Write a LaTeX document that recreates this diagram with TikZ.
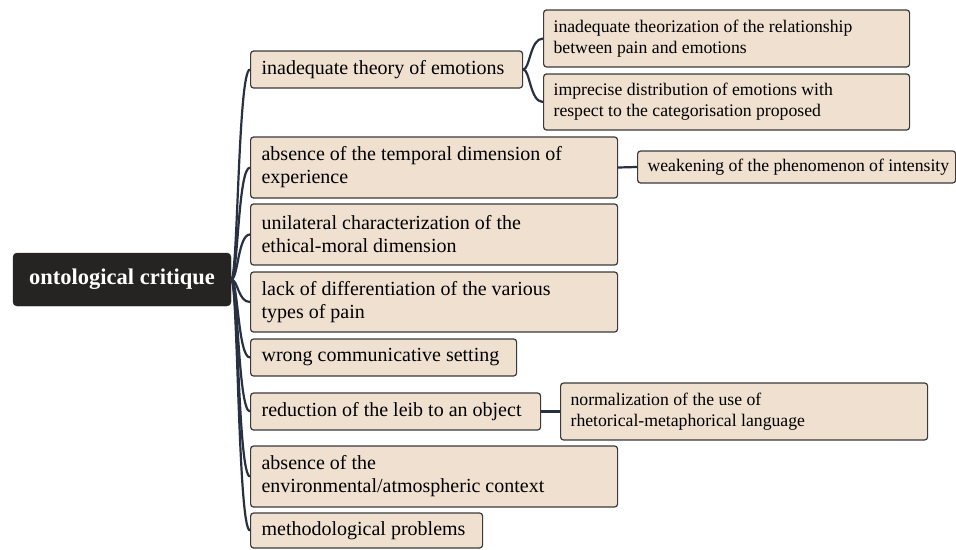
\documentclass[tikz,border=0pt]{standalone}
\usepackage{fontspec}
\setmainfont{Liberation Serif}
\definecolor{boxfill}{RGB}{240,224,207}
\definecolor{boxline}{RGB}{58,58,58}
\definecolor{rootfill}{RGB}{38,36,35}
\definecolor{linkcol}{RGB}{40,48,66}

\begin{document}
\begin{tikzpicture}[x=1pt, y=-1pt,
        topic/.style = {draw=boxline, fill=boxfill, line width=1.2pt, rounded corners=3pt,
                        anchor=west, align=flush left, inner xsep=11pt, inner ysep=0pt,
                        execute at begin node={\hyphenpenalty=10000\rightskip=0pt plus 1fil minus 40pt},
                        font={\fontsize{20}{23}\selectfont}},
        subtopic/.style = {topic, inner xsep=10pt, font={\fontsize{17.7}{21}\selectfont}},
        roottopic/.style = {draw=rootfill, fill=rootfill, text=white, rounded corners=4pt,
                        minimum width=218pt, minimum height=53pt,
                        font={\fontsize{22.5}{26}\selectfont\bfseries}},
        link/.style = {draw=linkcol, line width=2.2pt}]
        \useasboundingbox (0,0) rectangle (956,549);

        \node[roottopic] (root) at (122, 279.5) {ontological critique};

        \node[topic, text width=250pt, minimum height=37pt] (a) at (250, 69.5) {inadequate theory of emotions};
        \node[topic, text width=345pt, minimum height=61pt] (b) at (250, 167.5) {absence of the temporal dimension of\\experience};
        \node[topic, text width=345pt, minimum height=61pt] (c) at (250, 234.5) {unilateral characterization of the\\ethical-moral dimension};
        \node[topic, text width=345pt, minimum height=60pt] (d) at (250, 302) {lack of differentiation of the various\\types of pain};
        \node[topic, text width=244pt, minimum height=37pt] (e) at (250, 357.5) {wrong communicative setting};
        \node[topic, text width=268pt, minimum height=37pt] (f) at (250, 411.5) {reduction of the leib to an object};
        \node[topic, text width=345pt, minimum height=61pt] (g) at (250, 476.5) {absence of the\\environmental/atmospheric context};
        \node[topic, text width=210pt, minimum height=35pt] (h) at (250, 530.5) {methodological problems};

        \node[subtopic, text width=346pt, minimum height=57pt] (a1) at (543, 38.5) {inadequate theorization of the relationship\\between pain and emotions};
        \node[subtopic, text width=346pt, minimum height=56pt] (a2) at (543, 102) {imprecise distribution of emotions with\\respect to the categorisation proposed};
        \node[subtopic, text width=298pt, minimum height=32pt] (b1) at (637, 167) {weakening of the phenomenon of intensity};
        \node[subtopic, text width=347pt, minimum height=57pt] (f1) at (560, 411.5) {normalization of the use of\\rhetorical-metaphorical language};

        \coordinate (trunk) at (238, 0);
        \coordinate (abrace) at (530, 0);

        \foreach \c in {a, b, c, d, e, f, g, h}
            \draw[link] (root.east) .. controls (root.east -| trunk) and (\c.west -| trunk) .. (\c.west);
        \foreach \c in {a1, a2}
            \draw[link] (a.east) .. controls (a.east -| abrace) and (\c.west -| abrace) .. (\c.west);
        \draw[link] (b.east) -- (b1.west);
        \draw[link] (f.east) -- (f1.west);
    \end{tikzpicture}
\end{document}
